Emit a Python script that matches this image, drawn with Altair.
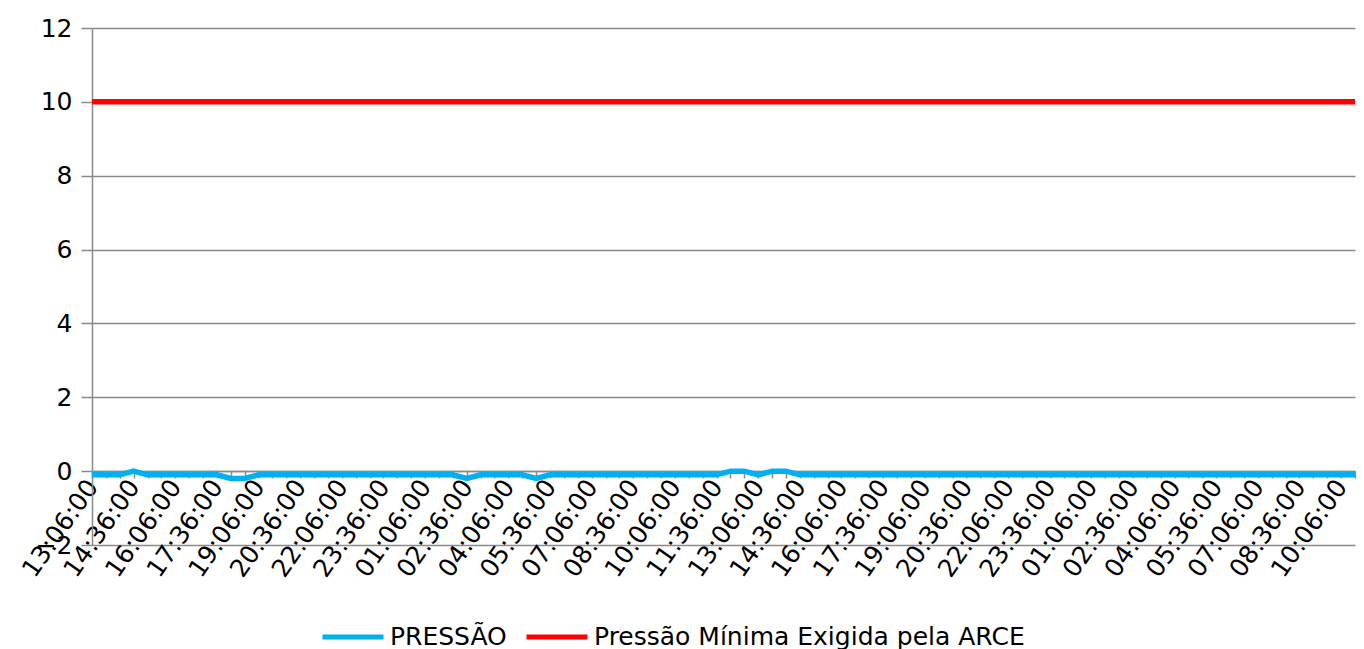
import altair as alt
import pandas as pd

# ---- data ----
tick_labels = ["13:06:00", "14:36:00", "16:06:00", "17:36:00", "19:06:00", "20:36:00",
               "22:06:00", "23:36:00", "01:06:00", "02:36:00", "04:06:00", "05:36:00",
               "07:06:00", "08:36:00", "10:06:00", "11:36:00", "13:06:00", "14:36:00",
               "16:06:00", "17:36:00", "19:06:00", "20:36:00", "22:06:00", "23:36:00",
               "01:06:00", "02:36:00", "04:06:00", "05:36:00", "07:06:00", "08:36:00",
               "10:06:00"]

pressao = [
    -0.1, -0.1, -0.1, 0.0, -0.1, -0.1, -0.1, -0.1, -0.1, -0.1,
    -0.2, -0.2, -0.1, -0.1, -0.1, -0.1, -0.1, -0.1, -0.1, -0.1,
    -0.1, -0.1, -0.1, -0.1, -0.1, -0.1, -0.1, -0.2, -0.1, -0.1,
    -0.1, -0.1, -0.2, -0.1, -0.1, -0.1, -0.1, -0.1, -0.1, -0.1,
    -0.1, -0.1, -0.1, -0.1, -0.1, -0.1, 0.0, 0.0, -0.1, 0.0,
    0.0, -0.1, -0.1, -0.1, -0.1, -0.1, -0.1, -0.1, -0.1, -0.1,
    -0.1, -0.1, -0.1, -0.1, -0.1, -0.1, -0.1, -0.1, -0.1, -0.1,
    -0.1, -0.1, -0.1, -0.1, -0.1, -0.1, -0.1, -0.1, -0.1, -0.1,
    -0.1, -0.1, -0.1, -0.1, -0.1, -0.1, -0.1, -0.1, -0.1, -0.1,
    -0.1, -0.1,
]
minima = [10] * len(pressao)

series_names = ["PRESSÃO", "Pressão Mínima Exigida pela ARCE"]
series_colors = ["#00B0F0", "#FF0000"]

rows = []
for i, v in enumerate(pressao):
    rows.append({"i": i, "v": v, "serie": series_names[0]})
for i, v in enumerate(minima):
    rows.append({"i": i, "v": v, "serie": series_names[1]})
df = pd.DataFrame(rows)

labels_js = "[" + ",".join("'" + t + "'" for t in tick_labels) + "]"
label_expr = f"datum.value % 3 == 0 ? {labels_js}[datum.value / 3] : ''"

FONT = "DejaVu Sans"
GRAY = "#8a8a8a"
FS = 25

chart = alt.Chart(df).mark_line(strokeWidth=5.5).encode(
    x=alt.X("i:Q",
            scale=alt.Scale(domain=[0, len(pressao) - 1], nice=False, zero=False),
            axis=alt.Axis(values=list(range(len(pressao))), labelExpr=label_expr,
                          labelAngle=305, labelAlign="right", labelBaseline="middle",
                          labelPadding=4, labelFontSize=FS, labelFont=FONT,
                          labelColor="black", labelOverlap=False, labelBound=False,
                          labelFlush=False, tickSize=7, tickColor=GRAY, tickWidth=1.5,
                          domainColor=GRAY, domainWidth=1.5, grid=False, title=None,
                          offset=-74)),
    y=alt.Y("v:Q",
            scale=alt.Scale(domain=[-2, 12], nice=False, zero=False),
            axis=alt.Axis(values=[-2, 0, 2, 4, 6, 8, 10, 12], labelFontSize=FS,
                          labelFont=FONT, labelColor="black", labelPadding=9,
                          tickSize=11, tickColor=GRAY, tickWidth=1.5,
                          domainColor=GRAY, domainWidth=1.5, grid=True,
                          gridColor=GRAY, gridWidth=1.5, title=None)),
    color=alt.Color("serie:N",
                    scale=alt.Scale(domain=series_names, range=series_colors),
                    legend=alt.Legend(orient="none", legendX=228, legendY=576,
                                      direction="horizontal", title=None,
                                      symbolType="stroke", symbolSize=3721,
                                      symbolStrokeWidth=5, labelFontSize=FS,
                                      labelFont=FONT, labelColor="black",
                                      labelOffset=4, columnPadding=9, padding=0,
                                      labelLimit=600)),
).properties(
    width=1263, height=517,
    autosize=alt.AutoSizeParams(type="none"),
    padding={"left": 84, "top": 20, "right": 1, "bottom": 104},
).configure_view(stroke=None)

chart.save("out.html", embed_options={"renderer": "svg", "actions": False})
